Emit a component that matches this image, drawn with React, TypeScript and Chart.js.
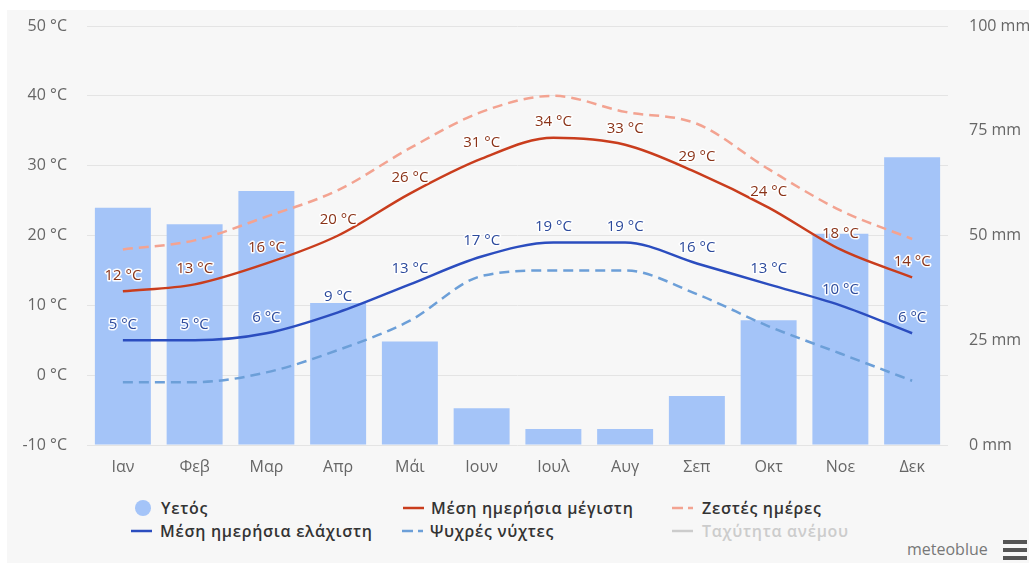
import React, { useEffect, useRef } from "react";
import { Chart, registerables } from "chart.js";

Chart.register(...registerables);

const months = ["Ιαν", "Φεβ", "Μαρ", "Απρ", "Μάι", "Ιουν", "Ιουλ", "Αυγ", "Σεπ", "Οκτ", "Νοε", "Δεκ"];
const precipitation = [56.6, 52.7, 60.6, 33.9, 24.7, 8.8, 3.8, 3.8, 11.7, 29.8, 50.4, 68.7];
const meanMax = [12, 13, 16, 20, 26, 31, 34, 33, 29, 24, 18, 14];
const meanMin = [5, 5, 6, 9, 13, 17, 19, 19, 16, 13, 10, 6];
const hotDays = [18, 19.3, 22.7, 26.5, 32.5, 37.7, 40, 37.7, 36, 29.5, 23.6, 19.5];
const coldNights = [-1, -1, 0.4, 3.6, 7.8, 14.2, 15, 15, 11.6, 7, 3.1, -0.8];
const tempTicks = { min: -10, max: 50, step: 10 };
const precipTicks = { min: 0, max: 100, step: 25 };

const FONT = '"Open Sans", "Noto Sans", sans-serif';

const COLORS = {
  bg: "#f7f7f7",
  bar: "#a4c4f8",
  max: "#c93d1d",
  min: "#2b4dbf",
  hot: "#f3a391",
  cold: "#6c9fd8",
  maxLabel: "#8a3318",
  minLabel: "#2c4a9c",
  grid: "#e4e4e4",
  axis: "#666666",
};

const labelPlugin = {
  id: "valueLabels",
  afterDatasetsDraw(chart: any) {
    const ctx = chart.ctx;
    chart.data.datasets.forEach((ds: any, i: number) => {
      if (!ds.labelColor) return;
      const meta = chart.getDatasetMeta(i);
      meta.data.forEach((pt: any, j: number) => {
        const txt = `${ds.data[j]} °C`;
        ctx.save();
        ctx.font = `15px ${FONT}`;
        ctx.textAlign = "center";
        ctx.textBaseline = "middle";
        ctx.lineJoin = "round";
        ctx.lineWidth = 3;
        ctx.strokeStyle = "rgba(255,255,255,0.95)";
        ctx.strokeText(txt, pt.x, pt.y - 16);
        ctx.fillStyle = ds.labelColor;
        ctx.fillText(txt, pt.x, pt.y - 16);
        ctx.restore();
      });
    });
  },
};

function LegendLine({ color, dashed }: { color: string; dashed?: boolean }) {
  return (
    <svg width={22} height={6} style={{ display: "block" }}>
      <line
        x1={0}
        y1={3}
        x2={21}
        y2={3}
        stroke={color}
        strokeWidth={2.5}
        strokeDasharray={dashed ? "11 5" : undefined}
      />
    </svg>
  );
}

export default function App() {
  const canvasRef = useRef<HTMLCanvasElement | null>(null);

  useEffect(() => {
    if (!canvasRef.current) return;
    const chart = new Chart(canvasRef.current, {
      type: "bar",
      data: {
        labels: months,
        datasets: [
          {
            type: "line",
            label: "Μέση ημερήσια μέγιστη",
            data: meanMax,
            yAxisID: "y",
            borderColor: COLORS.max,
            borderWidth: 2.5,
            pointRadius: 0,
            cubicInterpolationMode: "monotone",
            order: 1,
            labelColor: COLORS.maxLabel,
          } as any,
          {
            type: "line",
            label: "Μέση ημερήσια ελάχιστη",
            data: meanMin,
            yAxisID: "y",
            borderColor: COLORS.min,
            borderWidth: 2.5,
            pointRadius: 0,
            cubicInterpolationMode: "monotone",
            order: 2,
            labelColor: COLORS.minLabel,
          } as any,
          {
            type: "line",
            label: "Ζεστές ημέρες",
            data: hotDays,
            yAxisID: "y",
            borderColor: COLORS.hot,
            borderWidth: 2.5,
            borderDash: [10, 6],
            pointRadius: 0,
            cubicInterpolationMode: "monotone",
            order: 3,
          },
          {
            type: "line",
            label: "Ψυχρές νύχτες",
            data: coldNights,
            yAxisID: "y",
            borderColor: COLORS.cold,
            borderWidth: 2.5,
            borderDash: [10, 6],
            pointRadius: 0,
            cubicInterpolationMode: "monotone",
            order: 4,
          },
          {
            type: "bar",
            label: "Υετός",
            data: precipitation,
            yAxisID: "y2",
            backgroundColor: COLORS.bar,
            borderWidth: 0,
            categoryPercentage: 1,
            barPercentage: 0.78,
            order: 10,
          },
        ],
      },
      options: {
        animation: false,
        responsive: false,
        layout: { padding: { top: 16, left: 0, right: 0, bottom: 0 } },
        plugins: {
          legend: { display: false },
          tooltip: { enabled: false },
        },
        scales: {
          x: {
            offset: true,
            grid: { display: false },
            border: { display: false },
            ticks: {
              color: COLORS.axis,
              font: { size: 16, family: FONT },
              padding: 5,
              autoSkip: false,
              maxRotation: 0,
            },
            afterFit(s: any) {
              s.height = 35;
            },
          },
          y: {
            position: "left",
            min: tempTicks.min,
            max: tempTicks.max,
            grid: {
              color: COLORS.grid,
              drawTicks: true,
              tickLength: 20,
              tickColor: "rgba(0,0,0,0)",
            },
            border: { display: false },
            ticks: {
              stepSize: tempTicks.step,
              color: COLORS.axis,
              font: { size: 16, family: FONT },
              padding: 0,
              callback: (v: any) => `${v} °C`,
            },
            afterFit(s: any) {
              s.width = 80;
            },
          },
          y2: {
            position: "right",
            min: precipTicks.min,
            max: precipTicks.max,
            grid: {
              display: true,
              drawOnChartArea: false,
              color: "rgba(0,0,0,0)",
              drawTicks: true,
              tickLength: 21,
              tickColor: "rgba(0,0,0,0)",
            },
            border: { display: false },
            ticks: {
              stepSize: precipTicks.step,
              color: COLORS.axis,
              font: { size: 16, family: FONT },
              padding: 0,
              callback: (v: any) => `${v} mm`,
            },
            afterFit(s: any) {
              s.width = 81;
            },
          },
        },
      } as any,
      plugins: [labelPlugin],
    });
    return () => chart.destroy();
  }, []);

  const legendText: React.CSSProperties = {
    position: "absolute",
    fontFamily: FONT,
    fontSize: 16,
    fontWeight: 600,
    letterSpacing: "0.7px",
    color: "#333",
    lineHeight: "18px",
    whiteSpace: "nowrap",
  };

  const row1 = 508;
  const row2 = 531;

  return (
    <div
      style={{
        position: "absolute",
        left: 0,
        top: 0,
        width: 1029,
        height: 563,
        background: "#ffffff",
        overflow: "hidden",
      }}
    >
      <div
        style={{
          position: "absolute",
          left: 7,
          top: 10,
          width: 1022,
          height: 553,
          background: COLORS.bg,
        }}
      >
        <canvas ref={canvasRef} width={1022} height={470} style={{ display: "block", width: 1022, height: 470 }} />
      </div>

      {/* Legend row 1 */}
      <div
        style={{
          position: "absolute",
          left: 135,
          top: row1 - 8,
          width: 16,
          height: 16,
          borderRadius: 8,
          background: COLORS.bar,
        }}
      />
      <div style={{ ...legendText, left: 161, top: row1 - 9 }}>Υετός</div>

      <div style={{ position: "absolute", left: 403, top: row1 - 3 }}>
        <LegendLine color={COLORS.max} />
      </div>
      <div style={{ ...legendText, left: 431, top: row1 - 9 }}>Μέση ημερήσια μέγιστη</div>

      <div style={{ position: "absolute", left: 672, top: row1 - 3 }}>
        <LegendLine color={COLORS.hot} dashed />
      </div>
      <div style={{ ...legendText, left: 702, top: row1 - 9 }}>Ζεστές ημέρες</div>

      {/* Legend row 2 */}
      <div style={{ position: "absolute", left: 131, top: row2 - 3 }}>
        <LegendLine color={COLORS.min} />
      </div>
      <div style={{ ...legendText, left: 160, top: row2 - 9 }}>Μέση ημερήσια ελάχιστη</div>

      <div style={{ position: "absolute", left: 402, top: row2 - 3 }}>
        <LegendLine color={COLORS.cold} dashed />
      </div>
      <div style={{ ...legendText, left: 430, top: row2 - 9 }}>Ψυχρές νύχτες</div>

      <div style={{ position: "absolute", left: 672, top: row2 - 3 }}>
        <LegendLine color="#cccccc" />
      </div>
      <div style={{ ...legendText, left: 702, top: row2 - 9, color: "#cccccc" }}>Ταχύτητα ανέμου</div>

      {/* Credits */}
      <div
        style={{
          position: "absolute",
          left: 907,
          top: 540,
          fontFamily: FONT,
          fontSize: 16,
          color: "#777",
          lineHeight: "18px",
          whiteSpace: "nowrap",
        }}
      >
        meteoblue
      </div>
      {[540, 548, 556].map((y) => (
        <div
          key={y}
          style={{ position: "absolute", left: 1003, top: y, width: 24, height: 4, background: "#555" }}
        />
      ))}
    </div>
  );
}
